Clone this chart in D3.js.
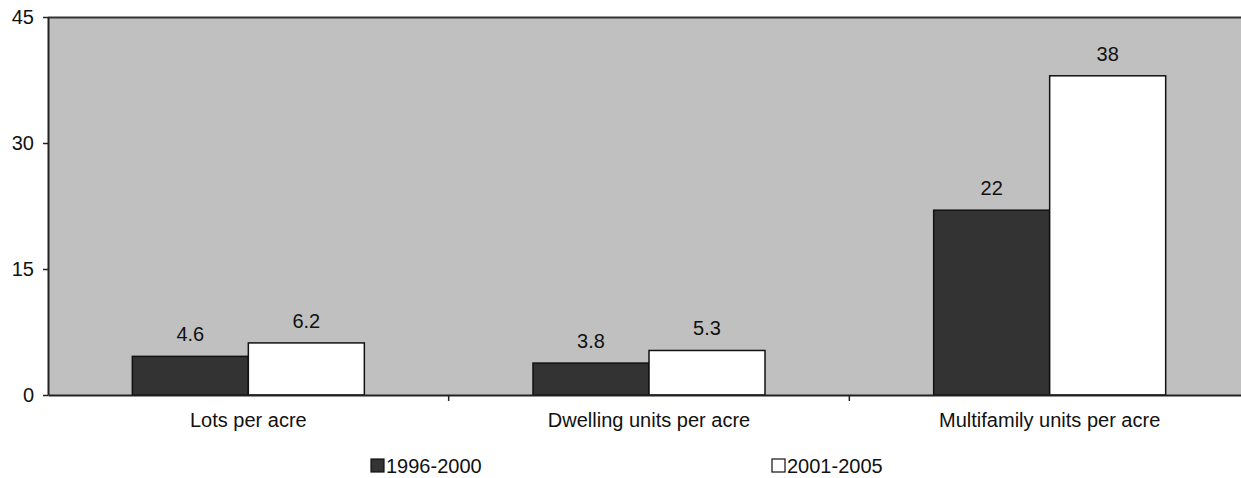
<!DOCTYPE html>
<html>
<head>
<meta charset="utf-8">
<script src="https://cdn.jsdelivr.net/npm/d3@7"></script>
<style>
  html, body { margin: 0; padding: 0; background: #fff; }
  svg { display: block; font-family: "Liberation Sans", Arial, sans-serif; }
</style>
</head>
<body>
<svg id="chart" width="1241" height="478"></svg>
<script>
// Density measures, two periods
const categories = ["Lots per acre", "Dwelling units per acre", "Multifamily units per acre"];
const seriesNames = ["1996-2000", "2001-2005"];
const values1996 = [4.6, 3.8, 22];
const values2001 = [6.2, 5.3, 38];
const yTicks = [0, 15, 30, 45];

const seriesValues = [values1996, values2001];
const seriesFill = ["#333333", "#ffffff"];
const fontSize = 20;

const svg = d3.select("#chart");
const plotLeft = 48, plotRight = 1250, plotTop = 17, plotBottom = 395;

const x0 = d3.scaleBand().domain(categories).range([plotLeft, plotRight]).padding(0);
const x1 = d3.scaleBand().domain(seriesNames).range([0, x0.bandwidth()])
  .paddingInner(0).paddingOuter(0.727);
const y = d3.scaleLinear().domain([0, 45]).range([plotBottom, plotTop]);

// plot area background
svg.append("rect")
  .attr("x", plotLeft).attr("y", plotTop)
  .attr("width", plotRight - plotLeft).attr("height", plotBottom - plotTop)
  .attr("fill", "#c0c0c0");
svg.append("line")
  .attr("x1", plotLeft).attr("x2", plotRight).attr("y1", plotTop + 0.5).attr("y2", plotTop + 0.5)
  .attr("stroke", "#333").attr("stroke-width", 2);

// bars
categories.forEach((cat, ci) => {
  seriesNames.forEach((s, si) => {
    const v = seriesValues[si][ci];
    const bx = x0(cat) + x1(s);
    svg.append("rect")
      .attr("x", bx).attr("y", y(v))
      .attr("width", x1.bandwidth()).attr("height", y(0) - y(v))
      .attr("fill", seriesFill[si])
      .attr("stroke", "#111").attr("stroke-width", 1.5);
    svg.append("text")
      .attr("x", bx + x1.bandwidth() / 2).attr("y", y(v) - 15)
      .attr("text-anchor", "middle")
      .attr("font-size", fontSize).attr("fill", "#111")
      .text(String(v));
  });
});

// y axis
const yAxis = d3.axisLeft(y).tickValues(yTicks).tickSize(5).tickPadding(9).tickSizeOuter(0);
const gy = svg.append("g").attr("transform", `translate(${plotLeft},0)`).call(yAxis);
gy.select(".domain").attr("stroke", "#222").attr("stroke-width", 2);
gy.selectAll(".tick line").attr("stroke", "#222").attr("stroke-width", 1.5);
gy.selectAll(".tick text").attr("font-size", fontSize).attr("fill", "#111")
  .attr("font-family", "Liberation Sans, Arial, sans-serif");

// x axis
const xAxis = d3.axisBottom(x0).tickSize(0).tickPadding(18).tickSizeOuter(0);
const gx = svg.append("g").attr("transform", `translate(0,${plotBottom})`).call(xAxis);
gx.select(".domain").attr("stroke", "#222").attr("stroke-width", 2);
gx.selectAll(".tick text").attr("font-size", fontSize).attr("fill", "#111")
  .attr("font-family", "Liberation Sans, Arial, sans-serif");
// tick marks between categories
gx.selectAll(".sep")
  .data(categories.slice(1))
  .enter().append("line")
  .attr("class", "sep")
  .attr("x1", d => x0(d)).attr("x2", d => x0(d))
  .attr("y1", 0).attr("y2", 6)
  .attr("stroke", "#222").attr("stroke-width", 1.5);

// legend
const legendX = [370, 771];
seriesNames.forEach((s, si) => {
  const g = svg.append("g").attr("transform", `translate(${legendX[si]},459)`);
  g.append("rect").attr("x", 1).attr("y", 0).attr("width", 13).attr("height", 13)
    .attr("fill", seriesFill[si]).attr("stroke", "#111").attr("stroke-width", 1.2);
  g.append("text").attr("x", 16).attr("y", 14)
    .attr("font-size", fontSize).attr("fill", "#111").text(s);
});
</script>
</body>
</html>
